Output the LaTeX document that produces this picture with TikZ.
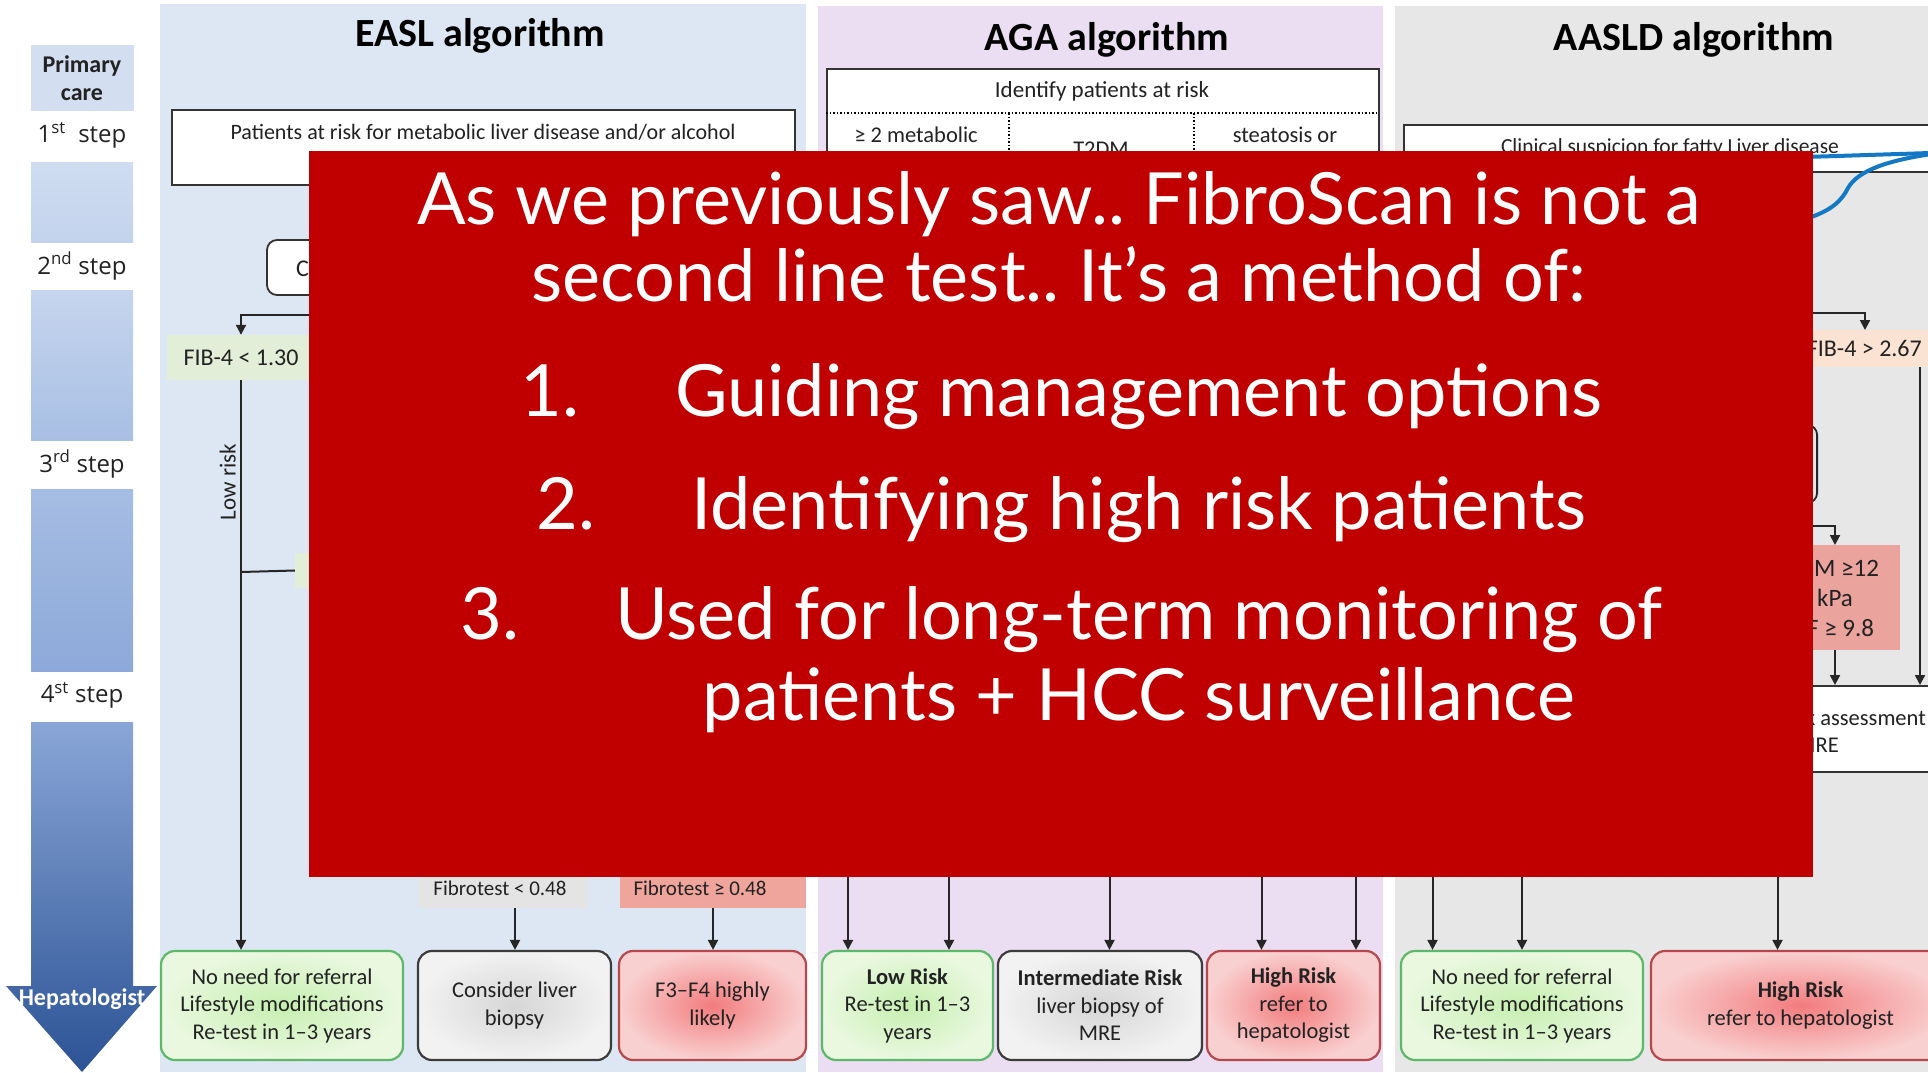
\documentclass[tikz,border=0pt]{standalone}
\usepackage{fontspec}
\setmainfont{Carlito}
\newfontfamily\latofont{Lato}
\newfontfamily\stepfont{Open Sans}
\usetikzlibrary{arrows.meta}
\frenchspacing

\definecolor{easlbg}{HTML}{DDE7F3}
\definecolor{agabg}{HTML}{EBDEF3}
\definecolor{aasldbg}{HTML}{E7E7E7}
\definecolor{slidered}{HTML}{C00000}
\definecolor{txt}{HTML}{222222}
\definecolor{grnborder}{HTML}{5DB86A}
\definecolor{grnin}{HTML}{C6EFB0}
\definecolor{grnout}{HTML}{EAF8E0}
\definecolor{redborder}{HTML}{B5484B}
\definecolor{redin}{HTML}{F27C7E}
\definecolor{redout}{HTML}{F9D0D0}
\definecolor{greyborder}{HTML}{3C3C3C}
\definecolor{greyin}{HTML}{D6D6D6}
\definecolor{greyout}{HTML}{F2F2F2}
\definecolor{fibgreen}{HTML}{E2EED7}
\definecolor{fibpeach}{HTML}{FBE3D4}
\definecolor{salmon}{HTML}{EFA49C}
\definecolor{pinkpatch}{HTML}{EBA39D}
\definecolor{greypatch}{HTML}{E4E4E4}
\definecolor{annoblue}{HTML}{1479C4}
\definecolor{pcbox}{HTML}{D3DFF1}
\definecolor{segA}{HTML}{CFDCF0}
\definecolor{segB}{HTML}{C4D3ED}
\definecolor{segC}{HTML}{C6D5EE}
\definecolor{segD}{HTML}{A8BFE4}
\definecolor{segE}{HTML}{A6BDE3}
\definecolor{segF}{HTML}{8DA9D9}
\definecolor{arrTop}{HTML}{8AA6D7}
\definecolor{arrBot}{HTML}{2C5395}

\tikzset{
  boxbase/.style={rounded corners=14pt, line width=2.2pt, minimum height=109pt,
    align=center, inner sep=0pt, text=txt, font=\fontsize{22.5}{27.5}\selectfont},
  greenbox/.style={boxbase, draw=grnborder, inner color=grnin, outer color=grnout},
  redbox/.style={boxbase, draw=redborder, inner color=redin, outer color=redout},
  greybox/.style={boxbase, draw=greyborder, inner color=greyin, outer color=greyout},
  arr/.style={line width=2pt, draw=black!85, -{Triangle[width=10pt,length=10pt]}},
  ln/.style={line width=2pt, draw=black!85},
  lbl/.style={font=\fontsize{21}{25}\selectfont, text=txt},
  ttl/.style={font=\bfseries\fontsize{40}{48}\selectfont, text=black, anchor=base},
  steplbl/.style={font=\stepfont\fontsize{24}{28}\selectfont, text=txt},
  bigtext/.style={font=\latofont\fontsize{72}{86}\selectfont, text=white, anchor=base, inner sep=0pt},
  whitebox/.style={draw=black!80, fill=white, line width=1.8pt, inner sep=0pt}
}

\begin{document}
\begin{tikzpicture}[x=1pt,y=-1pt, every node/.append style={text=txt, font=\fontsize{22.5}{27.5}\selectfont}]
\useasboundingbox (0,0) rectangle (1928,1072);
\clip (0,0) rectangle (1928,1072);
\fill[white] (0,0) rectangle (1928,1072);

% ---------- panels ----------
\fill[easlbg] (160,4) rectangle (806,1072);
\fill[agabg] (818,6) rectangle (1383,1072);
\fill[aasldbg] (1395,6) rectangle (1928,1072);

% ---------- left column ----------
\node[fill=pcbox, minimum width=103pt, minimum height=66pt, inner sep=0pt, align=center,
      font=\bfseries\fontsize{24}{28}\selectfont] (pc) at (82,78) {Primary\\care};
\node[steplbl] (s1) at (82,135) {1\textsuperscript{st}\ \ step};
\shade[top color=segA, bottom color=segB] (31,162) rectangle (133,242);
\node[steplbl] (s2) at (82,266) {2\textsuperscript{nd} step};
\shade[top color=segC, bottom color=segD] (31,290) rectangle (133,440);
\node[steplbl] (s3) at (82,464) {3\textsuperscript{rd} step};
\shade[top color=segE, bottom color=segF] (31,489) rectangle (133,671);
\node[steplbl] (s4) at (82,695) {4\textsuperscript{st} step};
\shade[top color=arrTop, bottom color=arrBot]
  (31,722) -- (133,722) -- (133,986) -- (157,986) -- (82,1072) -- (6,986) -- (31,986) -- cycle;
\node[font=\bfseries\fontsize{24}{28}\selectfont, text=white] (hep) at (82,999) {Hepatologist};

% ---------- EASL ----------
\node[ttl] (easlt) at (480,46) {EASL algorithm};
\node[whitebox, minimum width=623pt, minimum height=75pt] (pat) at (483.5,147.5) {};
\node[anchor=base, font=\fontsize{22}{26}\selectfont] (patt) at (483,139)
  {Patients at risk for metabolic liver disease and/or alcohol};
\node[whitebox, rounded corners=10pt, minimum width=120pt, minimum height=55pt] (cbox) at (327,267.5) {};
\node[anchor=base west, font=\fontsize{24}{28}\selectfont, inner sep=0pt] (ctext) at (296,276) {C};
\node[fill=fibgreen, minimum width=148pt, minimum height=45pt, inner sep=0pt,
      font=\fontsize{24}{28}\selectfont] (fibl) at (241,357.5) {FIB-4 < 1.30};
\coordinate (easlsplit) at (330,315);
\draw[arr] (easlsplit) -| (fibl.north);
\node[fill=fibgreen, minimum width=30pt, minimum height=35pt, inner sep=0pt] (gpatch) at (310,570.5) {};
\coordinate (lowbranch) at (241,572);
\draw[ln] (lowbranch) -- (gpatch.west);
\node[rotate=90, anchor=south, inner sep=2pt, font=\fontsize{23}{27}\selectfont] (lowrisk) at (238,482) {Low risk};

\node[greenbox, minimum width=242pt] (eg) at (282,1005.5)
  {No need for referral\\Lifestyle modifications\\Re-test in 1–3 years};
\node[greybox, minimum width=193pt] (consider) at (514.5,1005.5) {Consider liver\\biopsy};
\node[redbox, minimum width=187pt] (f3f4) at (712.5,1005.5) {F3–F4 highly\\likely};
\draw[arr] (fibl.south) -- (fibl.south |- eg.north);

\node[fill=greypatch, minimum width=170pt, minimum height=40pt, inner sep=0pt] (ftp1) at (503,888) {};
\node[lbl] (ft1) at (500,888) {Fibrotest < 0.48};
\node[fill=salmon, minimum width=186pt, minimum height=40pt, inner sep=0pt] (ftp2) at (713,888) {};
\node[lbl] (ft2) at (700,888) {Fibrotest ≥ 0.48};
\coordinate (a1) at (515,908);
\coordinate (a2) at (713,908);
\draw[arr] (a1) -- (a1 |- consider.north);
\draw[arr] (a2) -- (a2 |- f3f4.north);

% ---------- AGA ----------
\node[ttl] (agat) at (1107,50) {AGA algorithm};
\node[whitebox, anchor=north west, minimum width=552pt, minimum height=140pt] (agabox) at (826,68) {};
\node[font=\fontsize{23}{27}\selectfont] (agahead) at (1102,91) {Identify patients at risk};
\coordinate (dotL) at (826,113);
\coordinate (dotR) at (1378,113);
\draw[dotted, line width=1.5pt] (dotL) -- (dotR);
\coordinate (dv1) at (1009,113);
\coordinate (dv2) at (1194,113);
\draw[dotted, line width=1.5pt] (dv1) -- ++(0,95);
\draw[dotted, line width=1.5pt] (dv2) -- ++(0,95);
\node[anchor=base] (m1) at (916,142) {≥ 2 metabolic};
\node[anchor=base] (m2) at (1101,156) {T2DM};
\node[anchor=base] (m3) at (1285,142) {steatosis or};

\node[greenbox, minimum width=171pt] (lowr) at (907.5,1005.5)
  {\textbf{Low Risk}\\Re-test in 1–3\\years};
\node[greybox, minimum width=204pt] (inter) at (1100,1005.5)
  {\textbf{Intermediate Risk}\\liver biopsy of\\MRE};
\node[redbox, minimum width=173pt] (highr) at (1293.5,1005.5)
  {\textbf{High Risk}\\refer to\\hepatologist};
\coordinate (g1) at (848,870);
\coordinate (g2) at (949,870);
\coordinate (g3) at (1109.5,870);
\coordinate (g4) at (1261.5,870);
\coordinate (g5) at (1356,870);
\draw[arr] (g1) -- (g1 |- lowr.north);
\draw[arr] (g2) -- (g2 |- lowr.north);
\draw[arr] (g3) -- (g3 |- inter.north);
\draw[arr] (g4) -- (g4 |- highr.north);
\draw[arr] (g5) -- (g5 |- highr.north);

% ---------- AASLD ----------
\node[ttl] (aat) at (1694,50) {AASLD algorithm};
\node[whitebox, anchor=north west, minimum width=540pt, minimum height=47pt] (aabox) at (1403,124) {};
\node[anchor=base, font=\fontsize{21.5}{26}\selectfont] (aatext) at (1670,153) {Clinical suspicion for fatty Liver disease};

\coordinate (hs1) at (1800,313);
\node[fill=fibpeach, anchor=north west, minimum width=140pt, minimum height=37pt, inner sep=0pt] (fibh) at (1798,330) {};
\node[anchor=base east, inner sep=0pt, font=\fontsize{24}{28}\selectfont] (fibht) at (1922,356) {FIB-4 > 2.67};
\coordinate (fibhin) at (1865,330);
\draw[arr] (hs1) -| (fibhin);

\node[draw=black!85, line width=1.8pt, rounded corners=10pt, anchor=north east,
      minimum width=120pt, minimum height=78pt, inner sep=0pt] (rbox) at (1818,424) {};

\coordinate (hs2) at (1800,526);
\node[fill=pinkpatch, anchor=north west, minimum width=102pt, minimum height=105pt, inner sep=0pt] (pink) at (1798,545) {};
\coordinate (pinkin) at (1835,545);
\draw[arr] (hs2) -| (pinkin);
\node[anchor=base west, inner sep=0pt, font=\fontsize{25}{29}\selectfont] (pk1) at (1814,576) {M ≥12};
\node[anchor=base west, inner sep=0pt, font=\fontsize{25}{29}\selectfont] (pk2) at (1817,606) {kPa};
\node[anchor=base west, inner sep=0pt, font=\fontsize{25}{29}\selectfont] (pk3) at (1807,636) {F ≥ 9.8};

\node[whitebox, anchor=north west, minimum width=160pt, minimum height=86pt] (riskbox) at (1790,685) {};
\node[anchor=base east, inner sep=0pt] (rk1) at (1926,725) {k assessment};
\node[anchor=base east, inner sep=0pt] (rk2) at (1839,752) {MRE};
\coordinate (pinkout) at (1835,650);
\draw[arr] (pinkout) -- (pinkout |- riskbox.north);
\coordinate (fibhout) at (1920,367);
\draw[arr] (fibhout) -- (fibhout |- riskbox.north);

\node[greenbox, minimum width=242pt] (ag) at (1522,1005.5)
  {No need for referral\\Lifestyle modifications\\Re-test in 1–3 years};
\node[redbox, minimum width=299pt] (ar) at (1800.5,1005.5)
  {\textbf{High Risk}\\refer to hepatologist};
\coordinate (h1) at (1432.5,870);
\coordinate (h2) at (1522,870);
\coordinate (h3) at (1777.5,870);
\draw[arr] (h1) -- (h1 |- ag.north);
\draw[arr] (h2) -- (h2 |- ag.north);
\draw[arr] (h3) -- (h3 |- ar.north);

% blue annotation stroke
\coordinate (bl1) at (1805,157);
\coordinate (bl2) at (1930,153);
\draw[annoblue, line width=4pt, line cap=round] (bl1) -- (bl2);
\coordinate (bc1) at (1805,219);
\coordinate (bc2) at (1848,188);
\coordinate (bc3) at (1932,154);
\draw[annoblue, line width=4pt, line cap=round]
  (bc1) .. controls (1832,211) and (1842,200) .. (bc2)
        .. controls (1858,170) and (1890,160) .. (bc3);

% ---------- red overlay ----------
\node[fill=slidered, minimum width=1504pt, minimum height=725.5pt, inner sep=0pt] (msg) at (1060.5,514) {};
\node[bigtext] (l1) at (1059,224) {As we previously saw.. FibroScan is not a};
\node[bigtext] (l2) at (1059,301) {second line test.. It’s a method of:};
\node[bigtext] (i1) at (1139,416) {Guiding management options};
\node[bigtext, anchor=base west] (n1) at ([xshift=-155pt]i1.base west) {1.};
\node[bigtext] (i2) at (1139,529) {Identifying high risk patients};
\node[bigtext, anchor=base west] (n2) at ([xshift=-155pt]i2.base west) {2.};
\node[bigtext] (i3) at (1139,639.5) {Used for long-term monitoring of};
\node[bigtext, anchor=base west] (n3) at ([xshift=-155pt]i3.base west) {3.};
\node[bigtext] (i4) at (1139,720.5) {patients + HCC surveillance};
\end{tikzpicture}
\end{document}
